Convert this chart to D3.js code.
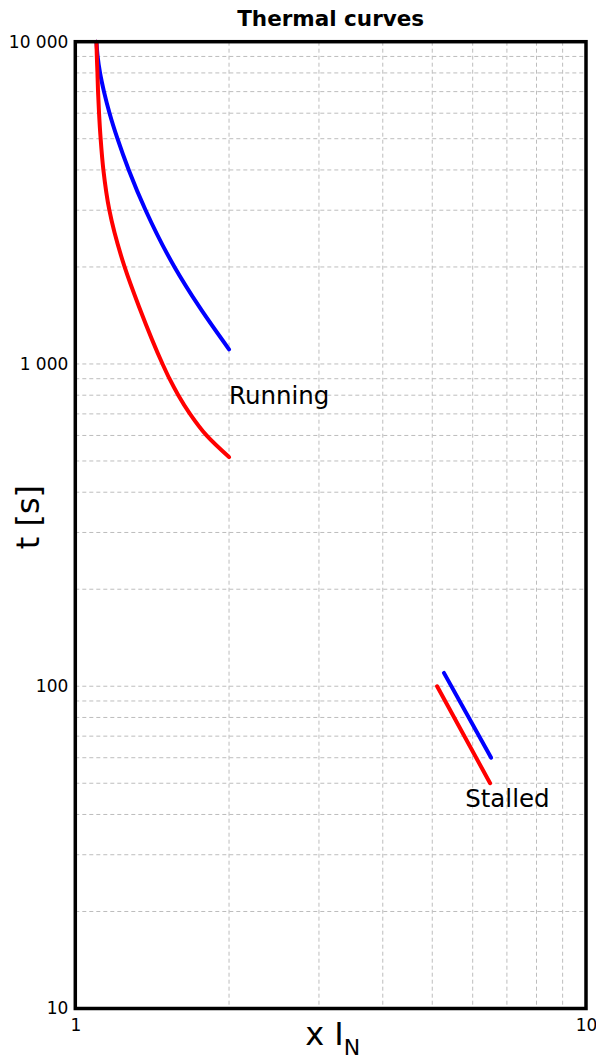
<!DOCTYPE html>
<html>
<head>
<meta charset="utf-8">
<script src="https://cdn.jsdelivr.net/npm/d3@7"></script>
<style>
  html, body { margin: 0; padding: 0; background: #fff; }
  svg { display: block; font-family: "DejaVu Sans", sans-serif; }
</style>
</head>
<body>
<svg id="chart" width="596" height="1057"></svg>
<script>
// ---- data ----
const runningHotX  = [1.100, 1.102, 1.105, 1.108, 1.113, 1.121, 1.135, 1.166, 1.249, 1.334, 1.482, 1.529, 1.591, 1.677, 1.807, 2.0];
const runningHotT  = [10000, 9000, 8000, 7000, 6000, 5000, 4000, 3000, 2000, 1500, 1000, 900, 800, 700, 600, 514];
const runningColdX = [1.100, 1.106, 1.118, 1.138, 1.167, 1.2095, 1.2725, 1.373, 1.564, 1.751, 2.0];
const runningColdT = [10000, 9000, 8000, 7000, 6000, 5000, 4000, 3000, 2000, 1500, 1110];
const stalledHotX  = [5.11, 6.49];
const stalledHotT  = [100, 50];
const stalledColdX = [5.27, 6.52];
const stalledColdT = [110, 60];
const xTickValues = [1, 10];
const xTickLabels = ["1", "10"];
const yTickValues = [10, 100, 1000, 10000];
const yTickLabels = ["10", "100", "1 000", "10 000"];
const annotations = [
  { text: "Running", x: 2.0, t: 751 },
  { text: "Stalled", x: 5.8, t: 42.2 }
];

// ---- layout ----
const L = 75.3, R = 586, T = 41.7, B = 1008.5;
const svg = d3.select("#chart");
const x = d3.scaleLog().domain([1, 10]).range([L, R]);
const y = d3.scaleLog().domain([10, 10000]).range([B, T]);

// grid
const xMinor = [];
for (let v = 2; v <= 9; v++) xMinor.push(v);
const yMinor = [];
[10, 100, 1000].forEach(d => { for (let k = 1; k <= 9; k++) if (!(k === 1 && d === 10)) yMinor.push(k * d); });
const grid = svg.append("g").attr("stroke", "#bdbdbd").attr("stroke-width", 1).attr("stroke-dasharray", "4,3");
grid.selectAll("line.vx").data(xMinor).join("line")
  .attr("x1", d => x(d)).attr("x2", d => x(d)).attr("y1", T).attr("y2", B);
grid.selectAll("line.hy").data(yMinor).join("line")
  .attr("y1", d => y(d)).attr("y2", d => y(d)).attr("x1", L).attr("x2", R);

// curves
const line = d3.line().x(d => x(d[0])).y(d => y(d[1])).curve(d3.curveMonotoneY);
const zip = (a, b) => a.map((v, i) => [v, b[i]]);
const series = [
  { pts: zip(runningColdX, runningColdT), color: "#0000ff" },
  { pts: zip(runningHotX, runningHotT), color: "#ff0000" },
  { pts: zip(stalledColdX, stalledColdT), color: "#0000ff" },
  { pts: zip(stalledHotX, stalledHotT), color: "#ff0000" }
];
svg.append("g").selectAll("path").data(series).join("path")
  .attr("d", d => line(d.pts))
  .attr("fill", "none")
  .attr("stroke", d => d.color)
  .attr("stroke-width", 4)
  .attr("stroke-linecap", "round")
  .attr("stroke-linejoin", "round");

// frame
svg.append("rect").attr("x", L).attr("y", T).attr("width", R - L).attr("height", B - T)
  .attr("fill", "none").attr("stroke", "#000").attr("stroke-width", 3.5);

// axes labels via d3 axes
const xAxis = d3.axisBottom(x).tickValues(xTickValues).tickFormat((d, i) => xTickLabels[i]).tickSize(0).tickPadding(10);
const gx = svg.append("g").attr("transform", `translate(0,${B})`).call(xAxis);
gx.select(".domain").remove();
gx.selectAll("text").attr("font-size", 17).attr("fill", "#000").attr("font-family", "DejaVu Sans");

const yAxis = d3.axisLeft(y).tickValues(yTickValues).tickFormat((d, i) => yTickLabels[i]).tickSize(0).tickPadding(7);
const gy = svg.append("g").attr("transform", `translate(${L},0)`).call(yAxis);
gy.select(".domain").remove();
gy.selectAll("text").attr("font-size", 17).attr("fill", "#000").attr("font-family", "DejaVu Sans");

// annotations
svg.append("g").selectAll("text").data(annotations).join("text")
  .attr("x", d => x(d.x)).attr("y", d => y(d.t))
  .attr("font-size", 24.5).attr("fill", "#000")
  .text(d => d.text);

// title
svg.append("text").attr("x", (L + R) / 2).attr("y", 26).attr("text-anchor", "middle")
  .attr("font-size", 21.5).attr("font-weight", "bold").text("Thermal curves");

// y label
svg.append("text").attr("transform", `translate(38.5,${(T + B) / 2 - 8}) rotate(-90)`)
  .attr("text-anchor", "middle").attr("font-size", 32).text("t [s]");

// x label
const xl = svg.append("text").attr("x", (L + R) / 2 + 2).attr("y", 1045).attr("text-anchor", "middle").attr("font-size", 32);
xl.append("tspan").text("x I");
xl.append("tspan").attr("dy", 10).attr("font-size", 22).text("N");
</script>
</body>
</html>
